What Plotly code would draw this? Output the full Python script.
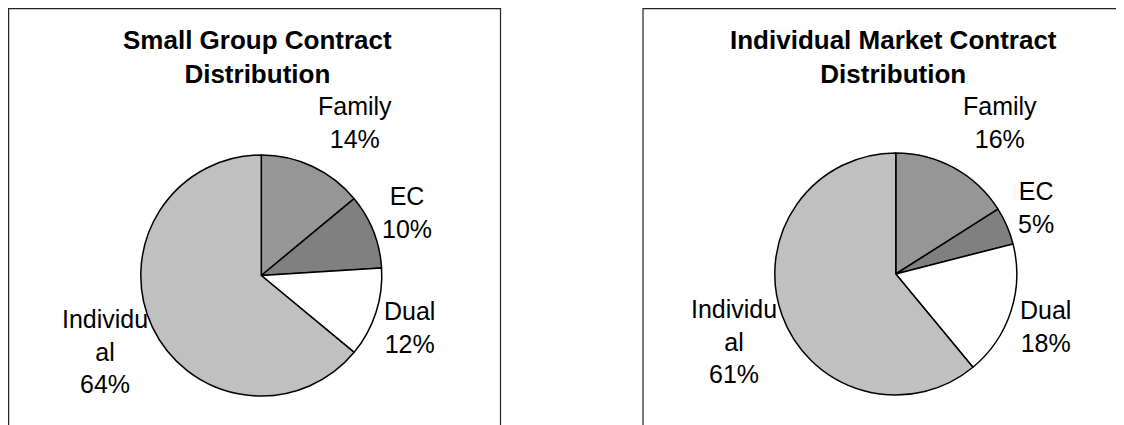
import plotly.graph_objects as go

# ---- data ----
categories = ["Family", "EC", "Dual", "Individual"]
small_group_pct = [14, 10, 12, 64]
individual_market_pct = [16, 5, 18, 61]
titles = ["Small Group Contract<br>Distribution", "Individual Market Contract<br>Distribution"]
label_texts = ["Family", "EC", "Dual", "Individu<br>al"]

# ---- styling ----
W, H = 1124, 425
OFF = 8  # page body margin offset
slice_colors = ["#969696", "#808080", "#FFFFFF", "#C0C0C0"]
FONT = "Liberation Sans, Arial, sans-serif"

def px_x(x):
    return (x - OFF) / W

def px_y(y):
    return 1 - (y - OFF) / H

panels = [
    dict(values=small_group_pct, cx=261.3, cy=275.5, r=120.5, title_x=257, border=(8.6, 500.5),
         label_pos=[(355, 123), (407, 212), (409, 327), (105, 351)]),
    dict(values=individual_market_pct, cx=895.8, cy=274, r=121, title_x=893, border=(643, 1140),
         label_pos=[(1000, 123), (1036, 207), (1045, 326), (734, 341)]),
]

fig = go.Figure()
annotations = []
shapes = []
for i, p in enumerate(panels):
    fig.add_trace(go.Pie(
        labels=categories,
        values=p["values"],
        sort=False,
        direction="clockwise",
        rotation=0,
        marker=dict(colors=slice_colors, line=dict(color="#000000", width=1.5)),
        textinfo="none",
        hoverinfo="label+percent",
        showlegend=False,
        domain=dict(x=[px_x(p["cx"] - p["r"]), px_x(p["cx"] + p["r"])],
                    y=[px_y(p["cy"] + p["r"]), px_y(p["cy"] - p["r"])]),
    ))
    annotations.append(dict(
        text="<b>" + titles[i] + "</b>", x=px_x(p["title_x"]), y=px_y(56.5),
        xref="paper", yref="paper", xanchor="center", yanchor="middle",
        showarrow=False, font=dict(family=FONT, size=26, color="#000000"),
    ))
    for lbl, val, (lx, ly) in zip(label_texts, p["values"], p["label_pos"]):
        annotations.append(dict(
            text=f"{lbl}<br>{val}%", x=px_x(lx), y=px_y(ly),
            xref="paper", yref="paper", xanchor="center", yanchor="middle",
            align="center", showarrow=False,
            font=dict(family=FONT, size=25, color="#000000"),
        ))
    x0, x1 = p["border"]
    shapes.append(dict(type="rect", xref="paper", yref="paper",
                       x0=px_x(x0), x1=px_x(x1), y0=px_y(460), y1=px_y(8.6),
                       line=dict(color="#222222", width=1.2), fillcolor="rgba(0,0,0,0)"))

fig.update_layout(
    width=W, height=H,
    margin=dict(l=0, r=0, t=0, b=0),
    paper_bgcolor="#FFFFFF", plot_bgcolor="#FFFFFF",
    annotations=annotations, shapes=shapes,
    font=dict(family=FONT),
)

fig.write_html("out.html")
